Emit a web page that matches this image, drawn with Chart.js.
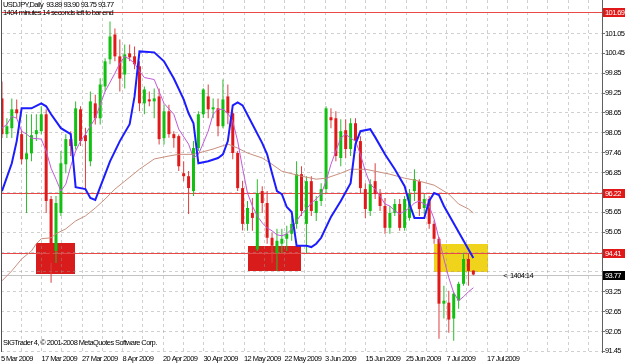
<!DOCTYPE html>
<html>
<head>
<meta charset="utf-8">
<title>USDJPY Daily</title>
<script src="https://cdn.jsdelivr.net/npm/chart.js@4.4.1/dist/chart.umd.min.js"></script>
<style>
	html, body { margin: 0; padding: 0; background: #ffffff; }
	#chartBox { width: 625px; height: 363px; }
</style>
</head>
<body>
<div id="chartBox"><canvas id="usdJpyChart" width="625" height="363"></canvas></div>
<script>
// daily candles, 5 Mar 2009 .. 17 Jul 2009
const opens = [
	99.09, 98.01, 98.19, 98.76, 98.01, 97.25, 97.43, 98.01, 98.10, 98.61,
	96.05, 94.48, 95.63, 97.10, 97.86, 97.65, 98.76, 97.98, 97.19, 98.94,
	98.49, 99.45, 100.27, 101.02, 100.36, 99.81, 100.45, 100.36, 100.06, 98.94,
	99.06, 99.00, 99.15, 97.89, 98.70, 98.01, 97.95, 96.83, 96.74, 96.29,
	97.59, 98.61, 99.15, 98.76, 98.79, 98.25, 99.15, 98.64, 97.44, 96.38,
	95.30, 95.63, 94.53, 96.29, 95.93, 94.88, 94.42, 94.70, 94.85, 95.00,
	95.30, 96.80, 95.30, 96.59, 95.63, 95.99, 96.35, 98.52, 98.49, 97.29,
	98.13, 97.56, 98.34, 97.80, 96.35, 95.69, 96.59, 96.20, 95.84, 95.18,
	95.63, 95.90, 95.18, 95.48, 96.29, 96.59, 95.78, 96.05, 95.30, 94.85,
	92.89, 92.92, 92.44, 92.98, 93.49, 94.24, 93.89
];
const highs = [
	99.60, 98.49, 99.09, 99.06, 98.15, 98.61, 98.61, 98.61, 98.85, 98.76,
	96.14, 96.14, 97.50, 98.01, 98.10, 99.00, 98.85, 98.20, 99.30, 99.20,
	99.70, 100.30, 101.41, 101.20, 100.87, 100.72, 100.72, 100.66, 100.21, 99.45,
	99.30, 99.39, 99.39, 98.90, 98.90, 98.10, 98.00, 97.19, 96.90, 97.80,
	98.70, 99.40, 99.51, 99.09, 99.09, 99.66, 99.51, 98.70, 97.50, 96.60,
	95.99, 96.08, 96.65, 96.44, 96.29, 95.03, 95.15, 95.15, 95.24, 95.54,
	97.19, 97.04, 96.74, 96.74, 96.14, 96.53, 98.85, 98.79, 98.70, 98.46,
	98.46, 98.49, 98.49, 97.95, 96.53, 96.65, 97.13, 96.35, 96.08, 95.84,
	96.05, 96.05, 96.14, 96.35, 96.95, 96.65, 96.20, 96.14, 95.40, 94.90,
	93.43, 93.28, 93.25, 93.55, 94.42, 94.42, 93.90
];
const lows = [
	97.89, 97.89, 97.89, 98.49, 97.10, 95.63, 97.19, 97.80, 98.01, 95.63,
	93.52, 94.12, 95.54, 96.83, 97.35, 97.55, 97.65, 96.29, 97.04, 98.30,
	98.30, 99.30, 100.12, 100.21, 99.30, 99.39, 100.21, 99.97, 98.70, 98.61,
	98.85, 98.49, 97.70, 97.70, 97.90, 97.60, 96.90, 96.59, 95.60, 96.14,
	97.50, 98.50, 98.49, 98.49, 97.95, 98.19, 98.31, 97.25, 96.29, 95.10,
	95.09, 95.09, 94.48, 95.63, 94.70, 94.12, 93.88, 94.42, 94.48, 94.79,
	95.15, 95.54, 94.42, 95.54, 95.39, 95.84, 96.23, 98.19, 97.19, 97.04,
	97.29, 97.35, 97.50, 96.20, 95.48, 95.54, 96.05, 95.69, 95.00, 95.00,
	95.54, 95.09, 95.09, 95.40, 95.99, 95.54, 95.60, 95.15, 94.70, 91.83,
	92.44, 92.01, 91.77, 92.74, 93.43, 93.43, 93.75
];
const closes = [
	98.01, 98.25, 98.76, 98.64, 97.25, 97.43, 97.98, 98.13, 98.61, 95.99,
	94.12, 95.93, 97.13, 97.86, 97.65, 98.79, 97.80, 97.80, 99.00, 98.49,
	99.51, 100.21, 100.96, 100.36, 99.69, 100.42, 100.33, 100.12, 98.94, 99.36,
	99.00, 99.09, 97.86, 98.70, 98.01, 97.89, 97.04, 96.74, 96.38, 97.59,
	98.61, 99.36, 98.76, 98.82, 98.25, 99.06, 98.64, 97.44, 96.38, 95.30,
	95.78, 95.48, 96.23, 95.93, 94.88, 94.64, 94.79, 94.85, 95.00, 95.30,
	96.80, 95.69, 96.59, 95.69, 95.99, 96.35, 98.79, 98.43, 97.35, 98.10,
	97.56, 98.34, 97.80, 96.38, 95.75, 96.50, 96.20, 95.84, 95.18, 95.63,
	95.90, 95.18, 96.05, 96.20, 96.65, 95.75, 96.05, 95.30, 94.85, 92.89,
	92.98, 92.41, 93.19, 93.49, 94.24, 93.88, 93.77
];

// indicator lines: bar index + price at each visible vertex
const blueBars = [0, 2, 3, 4, 6, 8, 9, 10, 12, 14, 15, 17, 18, 19, 20, 22, 24, 26, 27, 28,
	31, 33, 35, 37, 38, 39, 40, 42, 44, 45, 46, 47, 48, 49, 51, 53, 54, 55, 56, 57,
	58, 59, 60, 62, 63, 64, 65, 67, 69, 71, 72, 73, 75, 76, 78, 80, 82, 83, 84, 86,
	87, 88, 89, 90, 96];
const blueValues = [96.29, 97.13, 97.80, 98.79, 98.79, 98.94, 98.85, 98.61, 98.19, 98.01,
	96.41, 96.35, 96.08, 96.02, 96.41, 97.19, 97.80, 98.31, 99.15, 100.51,
	100.48, 100.21, 99.69, 99.06, 98.64, 98.34, 97.13, 97.19, 97.29, 97.40,
	97.80, 98.88, 98.97, 98.88, 98.31, 97.74, 97.40, 96.83, 96.29, 96.20,
	95.81, 95.66, 94.64, 94.64, 94.60, 94.70, 94.88, 95.51, 95.99, 96.53,
	97.71, 98.10, 98.16, 97.92, 97.40, 96.95, 96.44, 95.90, 95.48, 95.48,
	95.99, 96.23, 96.17, 95.84, 94.27];

const orchidBars = [0, 1, 2, 3, 4, 5, 6, 8, 9, 10, 11, 12, 13, 14, 15, 16, 17, 19, 21, 23,
	24, 25, 26, 27, 28, 29, 31, 32, 33, 35, 36, 38, 39, 40, 41, 42, 43, 44, 45, 46,
	47, 48, 49, 50, 51, 52, 53, 54, 55, 56, 57, 58, 59, 60, 61, 62, 63, 64, 65, 66,
	67, 68, 69, 70, 71, 72, 73, 74, 75, 76, 77, 78, 79, 80, 81, 82, 83, 84, 85, 86,
	87, 88, 89, 90, 91, 92, 93, 94, 95, 96];
const orchidValues = [98.19, 98.31, 98.55, 98.49, 98.10, 98.01, 97.89, 97.86, 97.50, 96.98,
	96.65, 96.29, 96.50, 97.04, 97.50, 97.80, 98.01, 98.49, 99.30, 99.85,
	100.15, 100.36, 100.27, 100.15, 99.91, 99.72, 99.66, 99.30, 98.94, 98.61,
	98.16, 97.71, 97.29, 97.40, 97.74, 98.10, 98.61, 98.76, 98.76, 98.64,
	98.40, 97.80, 96.98, 96.23, 95.84, 95.54, 95.33, 95.18, 95.09, 94.97,
	94.94, 95.00, 95.15, 95.39, 95.60, 95.75, 95.93, 96.05, 96.20, 96.59,
	97.10, 97.50, 97.89, 98.01, 97.89, 97.80, 97.40, 96.89, 96.50, 96.35,
	96.14, 95.90, 95.84, 95.69, 95.60, 95.69, 95.78, 95.93, 95.99, 95.90,
	95.84, 95.45, 94.85, 94.24, 93.67, 93.22, 92.98, 93.10, 93.25, 93.37];

const brownBars = [0, 2, 4, 6, 7, 8, 10, 11, 13, 15, 17, 19, 21, 23, 25, 28, 31, 34, 36, 39,
	40, 43, 46, 48, 50, 53, 55, 57, 61, 64, 66, 69, 71, 74, 76, 79, 82, 85, 88, 91,
	93, 95, 96];
const brownValues = [93.58, 93.88, 94.24, 94.48, 94.70, 94.85, 94.88, 95.00, 95.15, 95.39,
	95.54, 95.78, 96.05, 96.35, 96.59, 96.95, 97.26, 97.35, 97.40, 97.40,
	97.44, 97.56, 97.71, 97.59, 97.44, 97.29, 97.10, 96.89, 96.74, 96.65,
	96.68, 96.83, 96.95, 96.95, 96.89, 96.80, 96.68, 96.59, 96.47, 96.20,
	95.90, 95.75, 95.63];

// rectangles drawn on the chart (bar range, price range)
const zoneStart = [6.9, 50.1, 88.0];
const zoneEnd = [14.9, 60.9, 98.9];
const zoneLow = [93.78, 93.86, 93.86];
const zoneHigh = [94.72, 94.63, 94.70];
const zoneColors = ['#d81c1c', '#d81c1c', '#f0d41c'];

// horizontal lines
const levelValues = [101.69, 96.22, 94.41];
const levelLabels = ['101.69', '96.22', '94.41'];
const bidValue = 93.77;
const bidLabel = '93.77';

// axes: the time scale puts a date every 40 px or so, not on whole bars
const xLabelBars = [-0.2, 8.05, 16.3, 24.55, 32.8, 41.05, 49.3, 57.55, 65.8, 74.05, 82.3, 90.55, 98.8];
const xLabels = ['5 Mar 2009', '17 Mar 2009', '27 Mar 2009', '8 Apr 2009', '20 Apr 2009', '30 Apr 2009',
	'12 May 2009', '22 May 2009', '3 Jun 2009', '15 Jun 2009', '25 Jun 2009', '7 Jul 2009', '17 Jul 2009'];
const yGridValues = [101.05, 100.45, 99.85, 99.25, 98.65, 98.05, 97.45, 96.85, 96.25,
	95.65, 95.05, 94.45, 93.85, 93.25, 92.65, 92.05, 91.45];
const yTickLabels = ['101.05', '100.45', '99.85', '99.25', '98.65', '98.05', '97.46', '96.85', '',
	'95.65', '95.05', '', '', '93.25', '92.65', '92.05', '91.45'];

const titleLine = 'USDJPY,Daily  93.89 93.90 93.75 93.77';
const timerLine = '1404 minutes 14 seconds left to bar end';
const footerLine = 'SIGTrader 4, \u00a9 2001-2008 MetaQuotes Software Corp.';
const timerTag = '<  1404:14';

const FONT_FAMILY = "'Liberation Sans', Arial, sans-serif";
const FONT_SIZE = 7.5;
const TIGHT = '-0.6px'; // squeeze text to look like the terminal's small font
const GREEN = '#12c012';
const RED = '#e01a1a';
const X_MIN = -0.2;
const X_MAX = 122.2;

const barIndex = opens.map((o, i) => i);
const isBull = i => closes[i] >= opens[i];

const toPoints = (bars, values) => bars.map((b, k) => ({ x: b, y: values[k] }));

// vertical grid: on every date label and halfway between them
function timeGridTicks() {
	const half = (xLabelBars[1] - xLabelBars[0]) / 2;
	const ticks = [];
	for (let v = xLabelBars[0]; v <= X_MAX; v += half) {
		ticks.push({ value: Math.round(v * 1000) / 1000 });
	}
	return ticks;
}

const mtDecor = {
	id: 'mtDecor',
	beforeDraw(chart) {
		const { ctx, scales: { x, y } } = chart;
		// left on the base state so the axis labels pick it up too
		ctx.letterSpacing = TIGHT;
		ctx.save();
		ctx.fillStyle = '#ffffff';
		ctx.fillRect(0, 0, chart.width, chart.height);
		// boxes sit under the grid and candles
		zoneStart.forEach((start, k) => {
			const left = x.getPixelForValue(start);
			const right = x.getPixelForValue(zoneEnd[k]);
			const top = y.getPixelForValue(zoneHigh[k]);
			const bottom = y.getPixelForValue(zoneLow[k]);
			ctx.fillStyle = zoneColors[k];
			ctx.fillRect(Math.round(left), Math.round(top), Math.round(right - left), Math.round(bottom - top));
		});
		ctx.restore();
	},
	beforeDatasetsDraw(chart) {
		const { ctx, chartArea: area, scales: { y } } = chart;
		ctx.save();
		ctx.lineWidth = 1;
		ctx.strokeStyle = '#e84848';
		levelValues.forEach(v => {
			const py = Math.round(y.getPixelForValue(v)) + 0.5;
			ctx.beginPath();
			ctx.moveTo(area.left, py);
			ctx.lineTo(area.right, py);
			ctx.stroke();
		});
		const by = Math.round(y.getPixelForValue(bidValue)) + 0.5;
		ctx.strokeStyle = '#c4c4c4';
		ctx.beginPath();
		ctx.moveTo(area.left, by);
		ctx.lineTo(area.right, by);
		ctx.stroke();
		ctx.restore();
	},
	afterDraw(chart) {
		const { ctx, chartArea: area, scales: { x, y } } = chart;
		ctx.save();
		// left frame line
		ctx.strokeStyle = '#505050';
		ctx.lineWidth = 1;
		ctx.beginPath();
		ctx.moveTo(1.5, 0);
		ctx.lineTo(1.5, area.bottom);
		ctx.stroke();

		ctx.font = FONT_SIZE + 'px ' + FONT_FAMILY;
		ctx.letterSpacing = TIGHT;
		ctx.textBaseline = 'middle';
		ctx.textAlign = 'left';

		// price tags on the right scale
		levelValues.forEach((v, k) => {
			const py = Math.round(y.getPixelForValue(v));
			ctx.fillStyle = '#e01818';
			ctx.fillRect(area.right + 1, py - 4, 22, 9);
			ctx.fillStyle = '#ffffff';
			ctx.fillText(levelLabels[k], area.right + 3, py + 0.5);
		});
		const by = Math.round(y.getPixelForValue(bidValue));
		ctx.fillStyle = '#000000';
		ctx.fillRect(area.right + 1, by - 4, 22, 9);
		ctx.fillStyle = '#ffffff';
		ctx.fillText(bidLabel, area.right + 3, by + 0.5);

		// texts on the chart
		ctx.fillStyle = '#000000';
		ctx.fillText(titleLine, 3, 5);
		ctx.fillText(timerLine, 3, 13);
		ctx.fillText(footerLine, 3, 343);
		ctx.fillText(timerTag, x.getPixelForValue(102.1), by + 0.5);
		ctx.restore();
	}
};

const ctx = document.getElementById('usdJpyChart').getContext('2d');
Chart.defaults.font.family = FONT_FAMILY;
Chart.defaults.font.size = FONT_SIZE;
Chart.defaults.color = '#000000';

const chart = new Chart(ctx, {
	type: 'bar',
	data: {
		datasets: [
			{
				type: 'line',
				label: 'blue',
				data: toPoints(blueBars, blueValues),
				borderColor: '#1c1cff',
				borderWidth: 2,
				pointRadius: 0,
				tension: 0,
				order: 0
			},
			{
				type: 'line',
				label: 'orchid',
				data: toPoints(orchidBars, orchidValues),
				borderColor: '#c25ad9',
				borderWidth: 1,
				pointRadius: 0,
				tension: 0,
				order: 0
			},
			{
				type: 'line',
				label: 'brown',
				data: toPoints(brownBars, brownValues),
				borderColor: '#c9907e',
				borderWidth: 1,
				pointRadius: 0,
				tension: 0,
				order: 0
			},
			{
				label: 'bodies',
				data: barIndex.map(i => ({ x: i, y: [opens[i], closes[i]] })),
				backgroundColor: c => isBull(c.dataIndex) ? GREEN : RED,
				barThickness: 3,
				minBarLength: 1,
				inflateAmount: 0,
				grouped: false,
				order: 1
			},
			{
				label: 'wicks',
				data: barIndex.map(i => ({ x: i, y: [lows[i], highs[i]] })),
				backgroundColor: c => isBull(c.dataIndex) ? '#2cba2c' : '#dc4040',
				barThickness: 1,
				inflateAmount: 0,
				grouped: false,
				order: 2
			}
		]
	},
	options: {
		responsive: false,
		animation: false,
		events: [],
		layout: { padding: { left: 1, right: 0, top: 0, bottom: 0 } },
		plugins: {
			legend: { display: false },
			tooltip: { enabled: false }
		},
		scales: {
			x: {
				type: 'linear',
				min: X_MIN,
				max: X_MAX,
				offset: false,
				afterBuildTicks: s => {
					s.ticks = timeGridTicks();
				},
				afterFit: s => {
					s.height = 11;
					s.paddingLeft = 0;
					s.paddingRight = 0;
				},
				ticks: {
					autoSkip: false,
					maxRotation: 0,
					align: 'start',
					padding: 2,
					callback: value => {
						const k = xLabelBars.findIndex(b => Math.abs(b - value) < 0.01);
						return k >= 0 ? xLabels[k] : '';
					}
				},
				grid: {
					offset: false,
					color: 'rgba(150,150,150,0.45)',
					drawTicks: false
				},
				border: { display: false, dash: [3, 3] }
			},
			y: {
				type: 'linear',
				position: 'right',
				min: 91.43,
				max: 102.062,
				beginAtZero: false,
				afterBuildTicks: s => {
					s.ticks = yGridValues.map(v => ({ value: v }));
				},
				afterFit: s => {
					s.width = 23;
					s.paddingTop = 0;
					s.paddingBottom = 0;
				},
				ticks: {
					padding: 0,
					callback: (value, index) => yTickLabels[index]
				},
				grid: {
					color: 'rgba(150,150,150,0.45)',
					tickLength: 3,
					tickColor: '#707070',
					tickBorderDash: []
				},
				border: { display: true, color: '#606060', dash: [3, 3] }
			}
		}
	},
	plugins: [mtDecor]
});
</script>
</body>
</html>
